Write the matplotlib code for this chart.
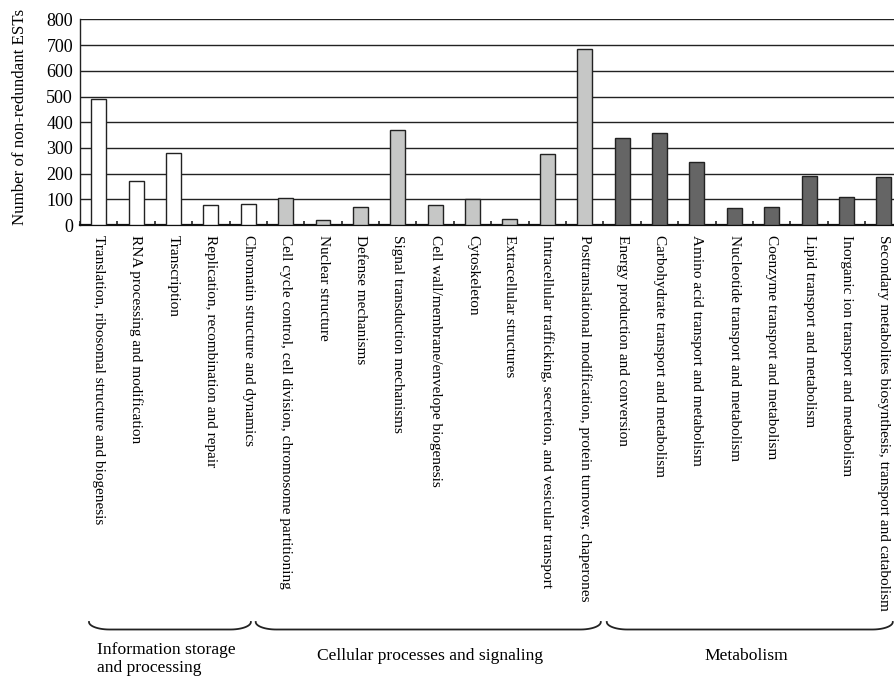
import numpy as np
import matplotlib
matplotlib.use("Agg")
import matplotlib.pyplot as plt
from matplotlib.transforms import blended_transform_factory

plt.rcParams['font.family'] = ['Liberation Serif', 'DejaVu Serif']

categories = [
    "Translation, ribosomal structure and biogenesis",
    "RNA processing and modification",
    "Transcription",
    "Replication, recombination and repair",
    "Chromatin structure and dynamics",
    "Cell cycle control, cell division, chromosome partitioning",
    "Nuclear structure",
    "Defense mechanisms",
    "Signal transduction mechanisms",
    "Cell wall/membrane/envelope biogenesis",
    "Cytoskeleton",
    "Extracellular structures",
    "Intracellular trafficking, secretion, and vesicular transport",
    "Posttranslational modification, protein turnover, chaperones",
    "Energy production and conversion",
    "Carbohydrate transport and metabolism",
    "Amino acid transport and metabolism",
    "Nucleotide transport and metabolism",
    "Coenzyme transport and metabolism",
    "Lipid transport and metabolism",
    "Inorganic ion transport and metabolism",
    "Secondary metabolites biosynthesis, transport and catabolism",
]
counts = [490, 171, 281, 79, 84,
          104, 18, 71, 371, 80, 100, 23, 275, 685,
          339, 357, 244, 65, 71, 191, 108, 189]
groups = ["Information storage\nand processing",
          "Cellular processes and signaling",
          "Metabolism"]
group_sizes = [5, 9, 8]
group_colors = ["white", "#c6c7c6", "#656565"]

colors = []
for size, c in zip(group_sizes, group_colors):
    colors += [c] * size

fig = plt.figure(figsize=(8.94, 6.76), dpi=100)
ax = fig.add_axes([0.0895, 0.667, 0.92, 0.3043])

x = np.arange(len(categories))
ax.bar(x, counts, width=0.4, color=colors, edgecolor="#222222",
       linewidth=1.0, zorder=3)

ax.set_xlim(-0.5, len(categories) - 0.5)
ax.set_ylim(0, 800)
ax.set_yticks(np.arange(0, 801, 100))
ax.yaxis.grid(True, color="#222222", linewidth=1.0, zorder=0)
ax.set_axisbelow(True)
ax.tick_params(axis="y", length=0, labelsize=13, pad=5)

ax.set_xticks(x)
ax.set_xticklabels(categories, rotation=-90, fontsize=11)
ax.tick_params(axis="x", which="major", length=0, pad=7)
ax.set_xticks(np.arange(-0.5, len(categories), 1.0), minor=True)
ax.tick_params(axis="x", which="minor", direction="in", length=3,
               width=1.2, color="#222222")

for s in ["top", "right"]:
    ax.spines[s].set_visible(False)
ax.spines["left"].set_color("#222222")
ax.spines["left"].set_linewidth(1.0)
ax.spines["bottom"].set_color("#111111")
ax.spines["bottom"].set_linewidth(1.6)

fig.text(20 / 894, 1 - 117 / 676, "Number of non-redundant ESTs",
         rotation=90, ha="center", va="center", fontsize=12.2)

# group brackets under the labels
tr = blended_transform_factory(ax.transData, fig.transFigure)
spans = [(-0.26, 4.07), (4.2, 13.43), (13.59, 21.24)]
y_top = 1 - 622 / 676
y_bot = 1 - 629.5 / 676
t = np.linspace(0, np.pi / 2, 20)
for x0, x1 in spans:
    r = 0.55
    left_x = x0 + r * (1 - np.cos(t))
    left_y = y_bot + (y_top - y_bot) * (1 - np.sin(t))
    right_x = x1 - r * (1 - np.cos(t[::-1]))
    right_y = y_bot + (y_top - y_bot) * (1 - np.sin(t[::-1]))
    bx = np.concatenate([left_x, right_x])
    by = np.concatenate([left_y, right_y])
    ax.plot(bx, by, color="#222222", linewidth=1.3, transform=tr,
            clip_on=False)

fig.text(97 / 894, 1 - 659 / 676, groups[0], ha="left", va="center",
         fontsize=12.6, linespacing=1.1)
fig.text(430 / 894, 1 - 656 / 676, groups[1], ha="center", va="center",
         fontsize=12.6)
fig.text(746 / 894, 1 - 656 / 676, groups[2], ha="center", va="center",
         fontsize=12.6)

fig.savefig("out.png", dpi=100)
